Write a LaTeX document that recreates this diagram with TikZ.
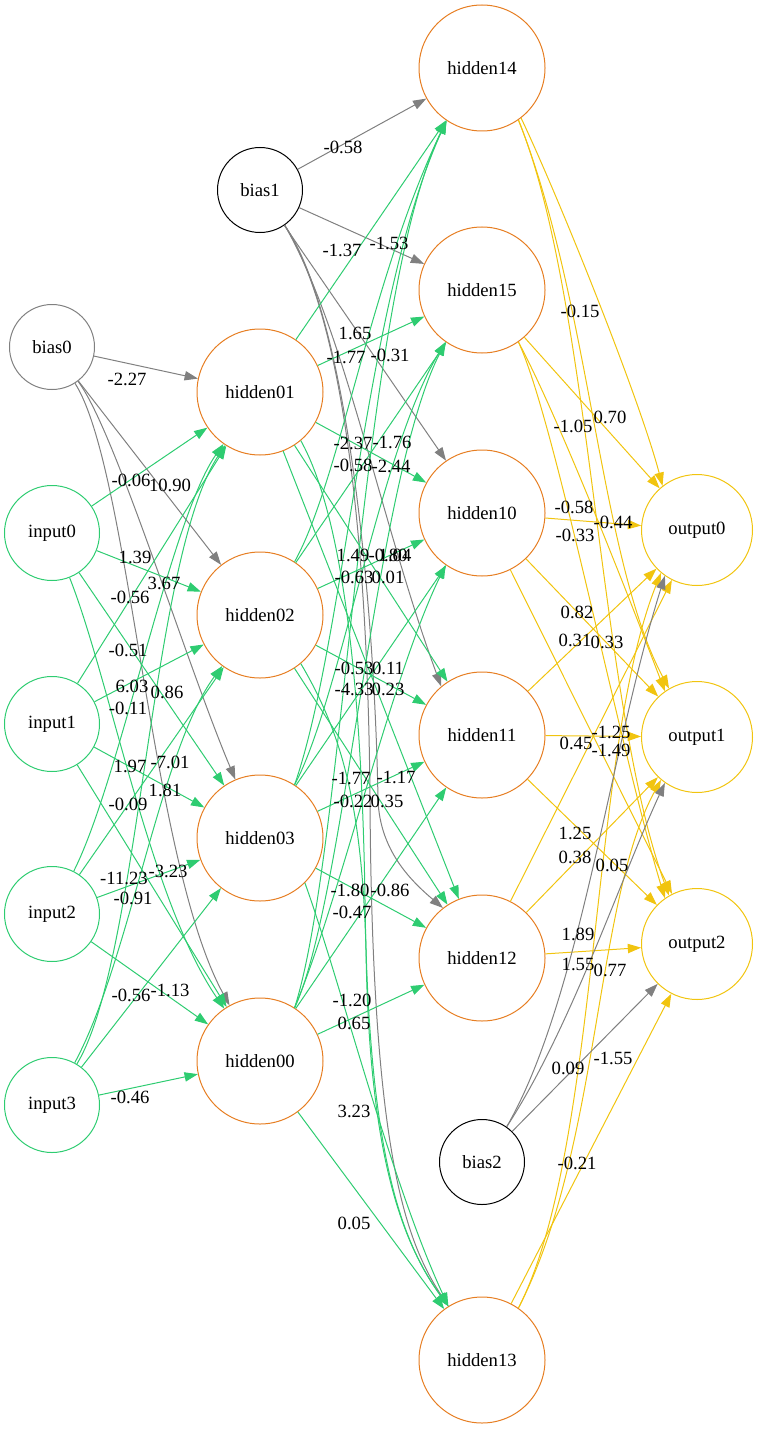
\documentclass[tikz,border=0pt]{standalone}
\usepackage{fontspec}
\setmainfont{Liberation Serif}
\usetikzlibrary{arrows.meta}
\definecolor{cgreen}{HTML}{2ECC71}
\definecolor{corange}{HTML}{E67E22}
\definecolor{cyellow}{HTML}{F1C40F}
\definecolor{cgray}{HTML}{808080}
\begin{document}
\begin{tikzpicture}[x=0.75pt,y=-0.75pt,
 every node/.style={font=\fontsize{14pt}{16pt}\selectfont},
 nd/.style={circle,draw,line width=0.75pt,inner sep=0pt},
 hid/.style={nd,draw=corange,minimum size=94.5pt},
 inp/.style={nd,draw=cgreen,minimum size=71.25pt},
 outp/.style={nd,draw=cyellow,minimum size=83.25pt},
 biaK/.style={nd,draw=black,minimum size=63.75pt},
 biaG/.style={nd,draw=cgray,minimum size=63.75pt},
 lab/.style={inner sep=0pt},
 wire/.style={line width=0.75pt,-{Triangle[length=10pt,width=7pt]}},
 gw/.style={wire,draw=cgreen},
 yw/.style={wire,draw=cyellow},
 grw/.style={wire,draw=cgray}]
\useasboundingbox (0,0) rectangle (757,1430);
% nodes
\node[biaG] (bias0) at (52,347) {bias0};
\node[inp] (input0) at (52,533) {input0};
\node[inp] (input1) at (52,724) {input1};
\node[inp] (input2) at (52,914) {input2};
\node[inp] (input3) at (52,1105) {input3};
\node[biaK] (bias1) at (260,190) {bias1};
\node[hid] (hidden01) at (260,392) {hidden01};
\node[hid] (hidden02) at (260,615) {hidden02};
\node[hid] (hidden03) at (260,838) {hidden03};
\node[hid] (hidden00) at (260,1061) {hidden00};
\node[hid] (hidden14) at (482,68) {hidden14};
\node[hid] (hidden15) at (482,290) {hidden15};
\node[hid] (hidden10) at (482,513) {hidden10};
\node[hid] (hidden11) at (482,735) {hidden11};
\node[hid] (hidden12) at (482,958) {hidden12};
\node[biaK] (bias2) at (482,1162) {bias2};
\node[hid] (hidden13) at (482,1360) {hidden13};
\node[outp] (output0) at (697,530) {output0};
\node[outp] (output1) at (697,737) {output1};
\node[outp] (output2) at (697,944) {output2};
% layer 1
\draw[grw] (bias0) -- (hidden01);
\draw[grw] (bias0) -- (hidden02);
\draw[grw] (bias0) .. controls (115,430) and (185,660) .. (hidden03);
\draw[grw] (bias0) .. controls (130,470) and (150,860) .. (hidden00);
\draw[gw] (input0) -- (hidden01);
\draw[gw] (input0) -- (hidden02);
\draw[gw] (input0) -- (hidden03);
\draw[gw] (input0) .. controls (110,680) and (150,900) .. (hidden00);
\draw[gw] (input1) -- (hidden01);
\draw[gw] (input1) -- (hidden02);
\draw[gw] (input1) -- (hidden03);
\draw[gw] (input1) -- (hidden00);
\draw[gw] (input2) .. controls (120,780) and (170,520) .. (hidden01);
\draw[gw] (input2) -- (hidden02);
\draw[gw] (input2) -- (hidden03);
\draw[gw] (input2) -- (hidden00);
\draw[gw] (input3) .. controls (140,960) and (150,560) .. (hidden01);
\draw[gw] (input3) .. controls (130,960) and (160,750) .. (hidden02);
\draw[gw] (input3) -- (hidden03);
\draw[gw] (input3) -- (hidden00);
% layer 2
\draw[grw] (bias1) -- (hidden14);
\draw[grw] (bias1) -- (hidden15);
\draw[grw] (bias1) -- (hidden10);
\draw[grw] (bias1.-55) .. controls (345,330) and (380,520) .. (hidden11.130);
\draw[grw] (bias1.-55) .. controls (350,320) and (375,620) .. (378,800) .. controls (380,850) and (410,880) .. (hidden12.128);
\draw[grw] (bias1.-55) .. controls (345,320) and (368,550) .. (370,800) .. controls (372,1150) and (405,1240) .. (hidden13.122);
\draw[gw] (hidden01) -- (hidden14);
\draw[gw] (hidden01) -- (hidden15);
\draw[gw] (hidden01) -- (hidden10);
\draw[gw] (hidden01) -- (hidden11);
\draw[gw] (hidden01) -- (hidden12);
\draw[gw] (hidden01.-50) .. controls (345,520) and (362,700) .. (365,900) .. controls (368,1150) and (400,1240) .. (hidden13.122);
\draw[gw] (hidden02.57) .. controls (340,480) and (370,280) .. (hidden14.236);
\draw[gw] (hidden02) -- (hidden15);
\draw[gw] (hidden02) -- (hidden10);
\draw[gw] (hidden02) -- (hidden11);
\draw[gw] (hidden02) -- (hidden12);
\draw[gw] (hidden02.-50) .. controls (340,730) and (362,800) .. (366,950) .. controls (369,1150) and (400,1240) .. (hidden13.122);
\draw[gw] (hidden03.57) .. controls (345,640) and (365,300) .. (hidden14.236);
\draw[gw] (hidden03.57) .. controls (340,700) and (380,450) .. (hidden15.235);
\draw[gw] (hidden03) -- (hidden10);
\draw[gw] (hidden03) -- (hidden11);
\draw[gw] (hidden03) -- (hidden12);
\draw[gw] (hidden03.-45) .. controls (340,980) and (390,1180) .. (hidden13.122);
\draw[gw] (hidden00.57) .. controls (345,850) and (360,300) .. (hidden14.236);
\draw[gw] (hidden00.57) .. controls (345,900) and (375,480) .. (hidden15.235);
\draw[gw] (hidden00.57) .. controls (340,900) and (390,680) .. (hidden10.235);
\draw[gw] (hidden00) -- (hidden11);
\draw[gw] (hidden00) -- (hidden12);
\draw[gw] (hidden00) -- (hidden13);
% layer 3
\draw[yw] (hidden14.-52) .. controls (560,200) and (640,400) .. (output0.128);
\draw[yw] (hidden14.-55) .. controls (590,300) and (600,560) .. (output1.120);
\draw[yw] (hidden14.-55) .. controls (592,300) and (598,700) .. (output2.120);
\draw[yw] (hidden15) -- (output0);
\draw[yw] (hidden15.-55) .. controls (560,420) and (630,600) .. (output1.125);
\draw[yw] (hidden15.-55) .. controls (555,420) and (620,750) .. (output2.125);
\draw[yw] (hidden10) -- (output0);
\draw[yw] (hidden10) -- (output1);
\draw[yw] (hidden10) -- (output2);
\draw[yw] (hidden11) -- (output0);
\draw[yw] (hidden11) -- (output1);
\draw[yw] (hidden11) -- (output2);
\draw[yw] (hidden12) -- (output0);
\draw[yw] (hidden12) -- (output1);
\draw[yw] (hidden12) -- (output2);
\draw[yw] (hidden13.55) .. controls (600,1150) and (590,750) .. (output0.-130);
\draw[yw] (hidden13.55) .. controls (600,1150) and (595,900) .. (output1.-130);
\draw[yw] (hidden13) -- (output2);
\draw[grw] (bias2.55) .. controls (580,1000) and (610,750) .. (output0.-125);
\draw[grw] (bias2.55) .. controls (570,1030) and (620,880) .. (output1.-125);
\draw[grw] (bias2) -- (output2);
% labels layer 1
\node[lab] (a1) at (127,379) {-2.27};
\node[lab] (a2) at (131,480) {-0.06};
\node[lab] (a3) at (170,485) {10.90};
\node[lab] (a4) at (135,557) {1.39};
\node[lab] (a5) at (164,583) {3.67};
\node[lab] (a6) at (130,597) {-0.56};
\node[lab] (a7) at (128,650) {-0.51};
\node[lab] (a8) at (132,686) {6.03};
\node[lab] (a9) at (167,692) {0.86};
\node[lab] (a10) at (128,708) {-0.11};
\node[lab] (a11) at (130,766) {1.97};
\node[lab] (a12) at (170,762) {-7.01};
\node[lab] (a13) at (165,790) {1.81};
\node[lab] (a14) at (128,804) {-0.09};
\node[lab] (a15) at (124,878) {-11.23};
\node[lab] (a16) at (168,871) {-3.23};
\node[lab] (a17) at (133,898) {-0.91};
\node[lab] (a18) at (131,995) {-0.56};
\node[lab] (a19) at (170,990) {-1.13};
\node[lab] (a20) at (130,1097) {-0.46};
% labels layer 2
\node[lab] (b1) at (343,147) {-0.58};
\node[lab] (b2) at (342,250) {-1.37};
\node[lab] (b3) at (389,243) {-1.53};
\node[lab] (b4) at (355,333) {1.65};
\node[lab] (b5) at (346,357) {-1.77};
\node[lab] (b6) at (390,355) {-0.31};
\node[lab] (b7) at (353,443) {-2.37};
\node[lab] (b8) at (392,442) {-1.76};
\node[lab] (b9) at (353,465) {-0.58};
\node[lab] (b10) at (391,466) {-2.44};
\node[lab] (b11) at (353,555) {1.49};
\node[lab] (b12) at (388,555) {-0.80};
\node[lab] (b13) at (395,555) {1.04};
\node[lab] (b14) at (354,577) {-0.63};
\node[lab] (b15) at (388,577) {0.01};
\node[lab] (b16) at (354,668) {-0.53};
\node[lab] (b17) at (388,668) {0.11};
\node[lab] (b18) at (354,689) {-4.33};
\node[lab] (b19) at (388,689) {0.23};
\node[lab] (b20) at (351,778) {-1.77};
\node[lab] (b21) at (396,777) {-1.17};
\node[lab] (b22) at (353,801) {-0.22};
\node[lab] (b23) at (387,801) {0.35};
\node[lab] (b24) at (350,890) {-1.80};
\node[lab] (b25) at (390,890) {-0.86};
\node[lab] (b26) at (352,912) {-0.47};
\node[lab] (b27) at (352,1000) {-1.20};
\node[lab] (b28) at (354,1023) {0.65};
\node[lab] (b29) at (354,1111) {3.23};
\node[lab] (b30) at (354,1223) {0.05};
% labels layer 3
\node[lab] (c1) at (580,311) {-0.15};
\node[lab] (c2) at (610,417) {0.70};
\node[lab] (c3) at (573,426) {-1.05};
\node[lab] (c4) at (574,507) {-0.58};
\node[lab] (c5) at (613,522) {-0.44};
\node[lab] (c6) at (575,535) {-0.33};
\node[lab] (c7) at (577,612) {0.82};
\node[lab] (c8) at (575,640) {0.31};
\node[lab] (c9) at (607,642) {0.33};
\node[lab] (c10) at (611,732) {-1.25};
\node[lab] (c11) at (576,743) {0.45};
\node[lab] (c12) at (611,750) {-1.49};
\node[lab] (c13) at (575,833) {1.25};
\node[lab] (c14) at (575,857) {0.38};
\node[lab] (c15) at (612,865) {0.05};
\node[lab] (c16) at (578,934) {1.89};
\node[lab] (c17) at (578,964) {1.55};
\node[lab] (c18) at (610,970) {0.77};
\node[lab] (c19) at (568,1068) {0.09};
\node[lab] (c20) at (613,1058) {-1.55};
\node[lab] (c21) at (577,1163) {-0.21};
\end{tikzpicture}
\end{document}
